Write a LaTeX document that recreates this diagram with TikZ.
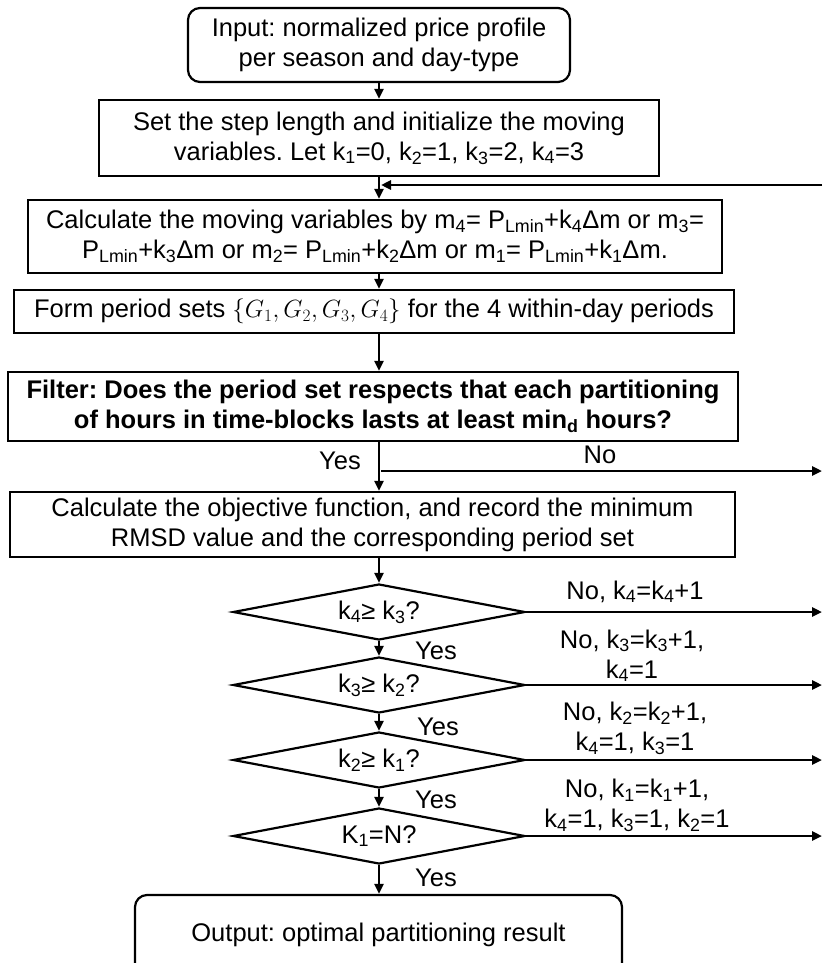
\documentclass[tikz,border=0pt]{standalone}
\usepackage{fontspec}
\setmainfont{Liberation Sans}
\usetikzlibrary{shapes.geometric,arrows.meta}
\newcommand\sbx[1]{\textsubscript{#1}}
\begin{document}
\frenchspacing
\begin{tikzpicture}[x=1pt,y=-1pt,
  every node/.style={font=\fontsize{25.5}{30}\selectfont, inner sep=0pt},
  box/.style={draw, line width=2.2pt, rectangle, align=center},
  rbox/.style={box, rounded corners=12pt},
  dec/.style={draw, line width=2.2pt, diamond, aspect=5.2, minimum width=292pt, minimum height=56pt, align=center},
  arr/.style={line width=2.6pt, -{Triangle[length=10pt,width=9pt]}},
  lab/.style={align=center}
]
\useasboundingbox (0,0) rectangle (822,963);
\clip (0,0) rectangle (822,963);

% boxes
\node[rbox, minimum width=382pt, minimum height=74pt] (in) at (379,45) {Input: normalized price profile\\per season and day-type};
\node[box, minimum width=560pt, minimum height=76pt] (step) at (379,138) {Set the step length and initialize the moving\\variables. Let k\sbx{1}=0, k\sbx{2}=1, k\sbx{3}=2, k\sbx{4}=3};
\node[box, minimum width=694pt, minimum height=73pt] (calc) at (375,236.5) {Calculate the moving variables by m\sbx{4}= P\sbx{Lmin}+k\sbx{4}Δm or m\sbx{3}=\\P\sbx{Lmin}+k\sbx{3}Δm or m\sbx{2}= P\sbx{Lmin}+k\sbx{2}Δm or m\sbx{1}= P\sbx{Lmin}+k\sbx{1}Δm.};
\node[box, minimum width=720pt, minimum height=43pt] (form) at (374,311.5) {Form period sets $\{G_1, G_2, G_3, G_4\}$ for the 4 within-day periods};
\node[box, minimum width=730pt, minimum height=69pt, font=\fontsize{25.5}{30}\selectfont\bfseries] (filt) at (373,406.5) {Filter: Does the period set respects that each partitioning\\of hours in time-blocks lasts at least min\sbx{d} hours?};
\node[box, minimum width=725pt, minimum height=65pt] (obj) at (372.5,524.5) {Calculate the objective function, and record the minimum\\RMSD value and the corresponding period set};
\node[dec] (d1) at (379,612) {k\sbx{4}≥ k\sbx{3}?};
\node[dec] (d2) at (379,685) {k\sbx{3}≥ k\sbx{2}?};
\node[dec] (d3) at (379,760) {k\sbx{2}≥ k\sbx{1}?};
\node[dec] (d4) at (379,836) {K\sbx{1}=N?};
\node[rbox, minimum width=487pt, minimum height=80pt] (out) at (378.5,935) {Output: optimal partitioning result};

% free ends
\coordinate (fbR) at (822,185);
\coordinate (noF) at (822,471);

% main flow
\draw[arr] (in.south) -- (in.south |- step.north);
\draw[arr] (in.south |- step.south) -- (in.south |- calc.north);
\draw[arr] (in.south |- calc.south) -- (in.south |- form.north);
\draw[arr] (in.south |- form.south) -- (in.south |- filt.north);
\draw[arr] (in.south |- filt.south) -- (in.south |- obj.north);
\draw[arr] (in.south |- obj.south) -- (d1.north);
\draw[arr] (d1.south) -- (d2.north);
\draw[arr] (d2.south) -- (d3.north);
\draw[arr] (d3.south) -- (d4.north);
\draw[arr] (d4.south) -- (d4.south |- out.north);

% feedback and no-branches
\draw[arr] (fbR) -- ([xshift=2pt]in.south |- fbR);
\draw[arr] ([xshift=2pt]in.south |- noF) -- (noF);
\draw[arr] (d1.east) -- (d1.east -| noF);
\draw[arr] (d2.east) -- (d2.east -| noF);
\draw[arr] (d3.east) -- (d3.east -| noF);
\draw[arr] (d4.east) -- (d4.east -| noF);

% labels
\node (yf) at (340,461) {Yes};
\node (nf) at (600,455) {No};
\node (y1) at (436,651) {Yes};
\node (y2) at (438,727) {Yes};
\node (y3) at (436,800) {Yes};
\node (y4) at (436,878) {Yes};
\node[lab, anchor=south] (n1) at (635,603) {No, k\sbx{4}=k\sbx{4}+1};
\node[lab, anchor=south] (n2) at (632,682) {No, k\sbx{3}=k\sbx{3}+1,\\k\sbx{4}=1};
\node[lab, anchor=south] (n3) at (635,755) {No, k\sbx{2}=k\sbx{2}+1,\\k\sbx{4}=1, k\sbx{3}=1};
\node[lab, anchor=south] (n4) at (637,832) {No, k\sbx{1}=k\sbx{1}+1,\\k\sbx{4}=1, k\sbx{3}=1, k\sbx{2}=1};
\end{tikzpicture}
\end{document}
